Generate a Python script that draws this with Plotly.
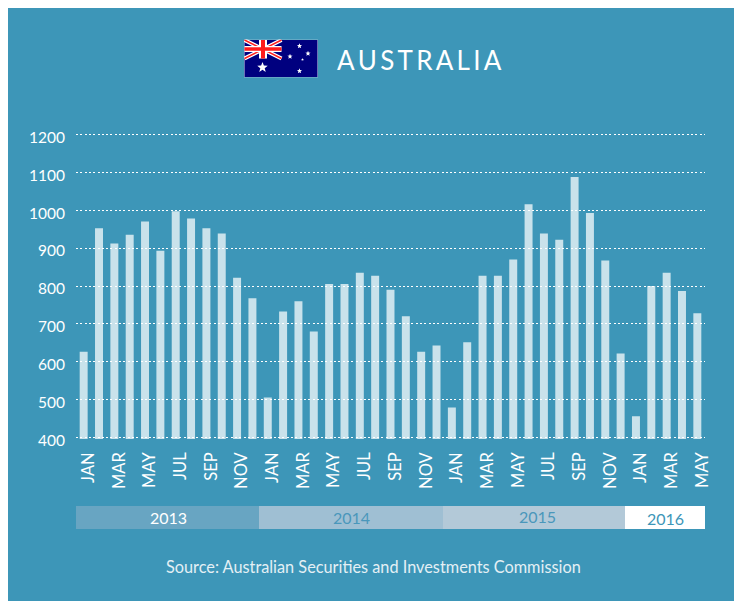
import base64
import plotly.graph_objects as go

months = ["JAN", "FEB", "MAR", "APR", "MAY", "JUN", "JUL", "AUG", "SEP", "OCT", "NOV", "DEC"]
years = ["2013", "2014", "2015", "2016"]
year_months = [12, 12, 12, 5]
values_2013 = [627, 952, 912, 935, 970, 893, 997, 978, 952, 938, 822, 768]
values_2014 = [506, 733, 760, 680, 805, 805, 835, 827, 790, 720, 627, 643]
values_2015 = [480, 652, 827, 827, 870, 1015, 938, 922, 1087, 992, 867, 622]
values_2016 = [457, 800, 835, 787, 728]
y_ticks = [400, 500, 600, 700, 800, 900, 1000, 1100, 1200]

title_text = "AUSTRALIA"
source_text = "Source: Australian Securities and Investments Commission"
BLUE = "#3d96b8"
band_edges = [76, 259, 443, 625, 705]
band_fill = ["#68a5c2", "#9fbfd3", "#b3c9d8", "#ffffff"]
band_text = ["#ffffff", "#4a97bb", "#4a97bb", "#3d96b8"]
year_label_x = [168, 351, 537, 665]
year_label_y = [518, 518, 517, 519]

values = values_2013 + values_2014 + values_2015 + values_2016
x = list(range(len(values)))
labels = [months[i % 12] for i in x]

W, H = 726, 593
L, R, T, B = 68, 29, 125.4, 161.9
FONT = "Lato"


def px(page_x):
    return (page_x - 8 - L) / (W - L - R)


def py(page_y):
    return 1 - (page_y - 8 - T) / (H - T - B)


star = lambda cx, cy, r: (
    f'<polygon fill="#fff" transform="translate({cx} {cy}) scale({r})" '
    'points="0,-1 .25,-.35 .95,-.31 .4,.12 .59,.81 0,.42 -.59,.81 -.4,.12 -.95,-.31 -.25,-.35"/>'
)
flag_svg = (
    '<svg xmlns="http://www.w3.org/2000/svg" width="148" height="76" viewBox="0 0 148 76">'
    '<rect width="148" height="76" fill="#d9dfee"/>'
    '<rect x="1" y="1" width="146" height="74" fill="#00007f"/>'
    '<g stroke="#fff" stroke-width="8"><path d="M1 1L75 38M75 1L1 38"/></g>'
    '<g stroke="#ff1c1c" stroke-width="3"><path d="M1 1L75 38M75 1L1 38"/></g>'
    '<rect x="1" y="13" width="74" height="12" fill="#fff"/>'
    '<rect x="30" y="1" width="16" height="37" fill="#fff"/>'
    '<rect x="1" y="15.500" width="74" height="7" fill="#ff1c1c"/>'
    '<rect x="34" y="1" width="8" height="37" fill="#ff1c1c"/>'
    + star(37, 56, 11) + star(111, 13, 5.500) + star(92, 34, 5.500) + star(128, 28, 5.500)
    + star(117, 40, 3) + star(111, 63, 5.500)
    + '</svg>'
)
flag_uri = "data:image/svg+xml;base64," + base64.b64encode(flag_svg.encode()).decode()

fig = go.Figure(
    go.Bar(
        x=x,
        y=values,
        width=0.52,
        marker=dict(color="rgba(255,255,255,0.72)", line=dict(width=0)),
        hoverinfo="skip",
    )
)

shapes = []
annotations = []
for i, year in enumerate(years):
    shapes.append(
        dict(
            type="rect", xref="paper", yref="paper",
            x0=px(band_edges[i]), x1=px(band_edges[i + 1]), y0=py(529), y1=py(506),
            fillcolor=band_fill[i], line=dict(width=0), layer="below",
        )
    )
    annotations.append(
        dict(
            text=year, xref="paper", yref="paper",
            x=px(year_label_x[i]), y=py(year_label_y[i]),
            showarrow=False, xanchor="center", yanchor="middle",
            font=dict(family=FONT, size=16, color=band_text[i]),
        )
    )

annotations.append(
    dict(
        text="\u2009".join(title_text), xref="paper", yref="paper",
        x=px(419), y=py(60), showarrow=False, xanchor="center", yanchor="middle",
        font=dict(family=FONT, size=26, color="#ffffff"),
    )
)
annotations.append(
    dict(
        text=source_text, xref="paper", yref="paper",
        x=px(373), y=py(566), showarrow=False, xanchor="center", yanchor="middle",
        font=dict(family=FONT, size=16.3, color="#e4f0f5"),
    )
)

fig.update_layout(
    width=W,
    height=H,
    margin=dict(l=L, r=R, t=T, b=B, pad=0),
    paper_bgcolor=BLUE,
    plot_bgcolor=BLUE,
    showlegend=False,
    bargap=0.5,
    shapes=shapes,
    annotations=annotations,
    images=[
        dict(
            source=flag_uri, xref="paper", yref="paper",
            x=px(244), y=py(40), sizex=px(318) - px(244), sizey=py(40) - py(78),
            xanchor="left", yanchor="top", sizing="stretch", layer="above",
        )
    ],
    xaxis=dict(
        range=[-0.5, len(values) - 0.5],
        tickmode="array",
        tickvals=x[::2],
        ticktext=labels[::2],
        tickangle=-90,
        tickfont=dict(family=FONT, size=16.5, color="#ffffff"),
        showgrid=False,
        zeroline=False,
        showline=False,
        ticks="",
        ticklabelstandoff=9,
        ticklabelshift=5,
    ),
    yaxis=dict(
        range=[397, 1203],
        tickmode="array",
        tickvals=y_ticks,
        tickfont=dict(family=FONT, size=15.5, color="#ffffff"),
        showgrid=True,
        gridcolor="#ffffff",
        griddash="2px,2.3px",
        gridwidth=1.3,
        zeroline=False,
        showline=False,
        ticks="",
        ticklabelstandoff=10,
        ticklabelshift=3,
    ),
)

# The panel colour runs to the right and bottom window edges; only the page's
# top and left margins stay white.
backdrop = (
    "var d=document.createElement('div');"
    "d.style.cssText='position:fixed;left:8px;top:8px;right:0;bottom:0;z-index:-1;background:" + BLUE + "';"
    "document.body.appendChild(d);"
)
fig.write_html("out.html", config=dict(displayModeBar=False), post_script=backdrop)
